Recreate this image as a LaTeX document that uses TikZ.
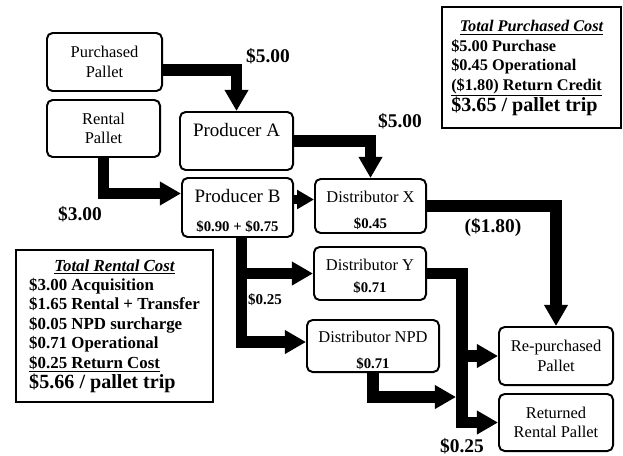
\documentclass[tikz,border=0pt]{standalone}
\usepackage{fontspec}
\setmainfont{Liberation Serif}
\usetikzlibrary{arrows.meta}

\tikzset{
  pallet/.style={draw, line width=1.4pt, rounded corners=4pt, align=center, inner sep=1pt,
    font=\fontsize{11.7}{14}\selectfont},
  producer/.style={pallet, font=\fontsize{13.5}{16}\selectfont},
  lowtext/.style={text height=#1, text depth=0pt},
  total/.style={draw, line width=2pt, inner sep=0pt},
  flow/.style={line width=8.5pt, -{Triangle[length=15pt,width=16pt]}},
  short flow/.style={line width=7pt, -{Triangle[length=12pt,width=13pt]}},
  price/.style={font=\bfseries\fontsize{13.8}{16}\selectfont, inner sep=0pt},
}
\newcommand{\val}[1]{{\bfseries\fontsize{10.5}{12}\selectfont #1}}

\begin{document}
\begin{tikzpicture}[x=0.025cm,y=-0.025cm]
\useasboundingbox (0,0) rectangle (623,455);

\node[pallet, minimum width=2.875cm, minimum height=1.45cm] (pp) at (104.5,62) {Purchased\\Pallet};
\node[pallet, minimum width=2.825cm, minimum height=1.425cm] (rp) at (103.5,128.5) {Rental\\Pallet};
\node[producer, minimum width=2.825cm, minimum height=1.45cm, text height=9pt, text depth=14.7pt] (pa) at (236.5,141) {Producer A};
\node[producer, minimum width=2.775cm, minimum height=1.475cm, lowtext=34.8pt] (pb) at (237.5,207.5) {Producer B\\[5pt]\val{\$0.90 + \$0.75}};
\node[pallet, minimum width=2.775cm, minimum height=1.35cm, lowtext=32.7pt] (dx) at (370.5,206) {Distributor X\\[4.5pt]\val{\$0.45}};
\node[pallet, minimum width=2.8cm, minimum height=1.325cm, lowtext=26.3pt] (dy) at (370,273.5) {Distributor Y\\[1.6pt]\val{\$0.71}};
\node[pallet, minimum width=3.3cm, minimum height=1.3cm, lowtext=31.3pt] (dn) at (373,346) {Distributor NPD\\[3.8pt]\val{\$0.71}};
\node[pallet, minimum width=2.85cm, minimum height=1.45cm] (rep) at (556,356) {Re-purchased\\Pallet};
\node[pallet, minimum width=2.85cm, minimum height=1.425cm] (ret) at (556,422.5) {Returned\\Rental Pallet};

\node[total, minimum width=4.475cm, minimum height=3.025cm, font=\bfseries\fontsize{11.6}{13.9}\selectfont] (tp) at (531.5,67.5) {%
  \begin{tabular}{@{}l@{}}
  \multicolumn{1}{c}{\underline{\itshape Total Purchased Cost}}\\
  \$5.00 Purchase\\
  \$0.45 Operational\\
  \underline{(\$1.80) Return Credit}\\
  {\fontsize{14.3}{17}\selectfont \$3.65 / pallet trip}
  \end{tabular}};
\node[total, minimum width=4.925cm, minimum height=3.8cm, font=\bfseries\fontsize{12}{13.8}\selectfont] (tr) at (114.5,326) {%
  \begin{tabular}{@{}l@{}}
  \multicolumn{1}{c}{\underline{\itshape Total Rental Cost}}\\
  \$3.00 Acquisition\\
  \$1.65 Rental + Transfer\\
  \$0.05 NPD surcharge\\
  \$0.71 Operational\\
  \underline{\$0.25 Return Cost}\\
  {\fontsize{14.3}{17}\selectfont \$5.66 / pallet trip}
  \end{tabular}};

\coordinate (split) at (462,0);
\coordinate (npd end) at (456,397);

\draw[flow] ([yshift=-0.2cm]pp.east) -| (pa.north);
\draw[flow] (pa.east) -| (dx.north);
\draw[flow] (rp.south) |- ([yshift=0.35cm]pb.west);
\draw[short flow] ([yshift=0.2cm]pb.east) coordinate (b1) -- (b1 -| dx.west);
\draw[flow] ([xshift=0.1cm]pb.south) |- (dy.west);
\draw[flow] ([xshift=0.1cm]pb.south) |- ([yshift=0.1cm]dn.west);
\draw[flow] (dx.east) -| (rep.north);
\draw[flow] (dy.east) -| (split |- ret.west) -- (ret.west);
\draw[flow] (split |- rep.west) -- (rep.west);
\draw[flow] (dn.south) |- (npd end);

\node[price] (c1) at (268,56) {\$5.00};
\node[price] (c2) at (400,121) {\$5.00};
\node[price] (c3) at (80,214) {\$3.00};
\node[price] (c4) at (493,228) {(\$1.80)};
\node[price, font=\bfseries\fontsize{10.7}{12}\selectfont] (c5) at (265,300) {\$0.25};
\node[price] (c6) at (462,446) {\$0.25};
\end{tikzpicture}
\end{document}
